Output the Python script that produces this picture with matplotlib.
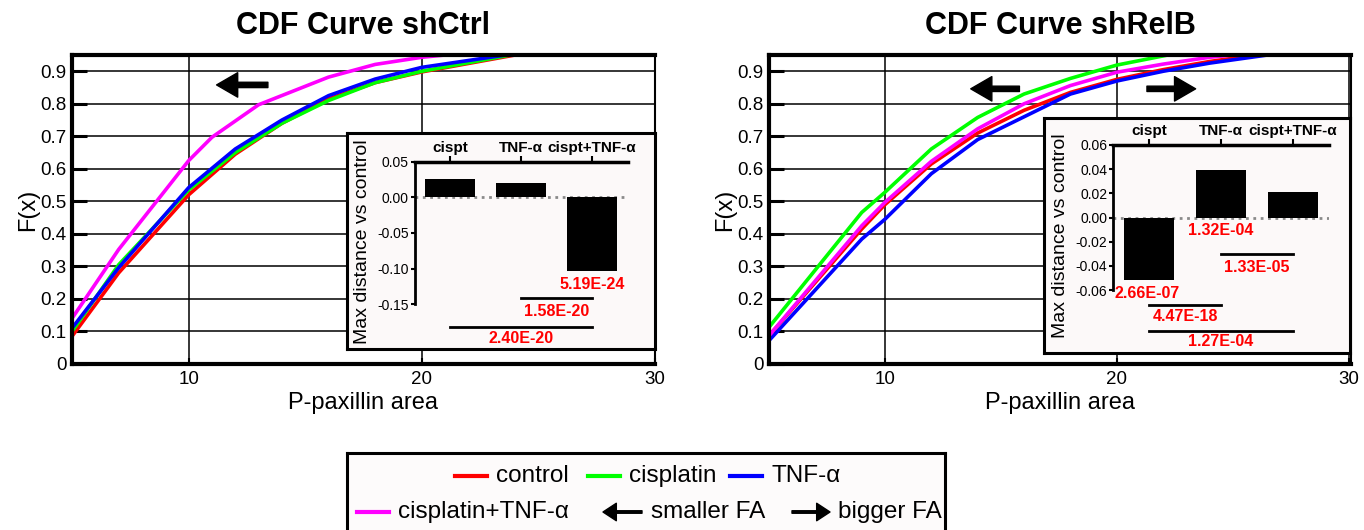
import matplotlib
matplotlib.use("Agg")
import matplotlib.pyplot as plt
import numpy as np

plt.rcParams["font.family"] = ["Liberation Sans", "DejaVu Sans"]
plt.rcParams["axes.unicode_minus"] = False

SERIES = ["control", "cisplatin", "TNF-α", "cisplatin+TNF-α"]
COLORS = ["#ff0000", "#00ff00", "#0000ff", "#ff00ff"]

# shCtrl CDF curves (P-paxillin area, F(x))
shctrl_control_x = [5, 5, 7, 10, 12, 14, 16, 18, 20, 24]
shctrl_control_f = [0, 0.085, 0.28, 0.52, 0.645, 0.74, 0.815, 0.865, 0.898, 0.95]
shctrl_cisplatin_x = [5, 5, 7, 10, 12, 14, 16, 18, 20, 23.8]
shctrl_cisplatin_f = [0, 0.10, 0.305, 0.535, 0.65, 0.74, 0.81, 0.865, 0.90, 0.95]
shctrl_tnf_x = [5, 5, 7, 10, 12, 14, 16, 18, 20, 23.6]
shctrl_tnf_f = [0, 0.11, 0.296, 0.542, 0.661, 0.75, 0.825, 0.876, 0.912, 0.95]
shctrl_combo_x = [5, 5, 7, 10, 11, 13, 16, 18, 20, 21]
shctrl_combo_f = [0, 0.14, 0.352, 0.625, 0.697, 0.797, 0.882, 0.921, 0.943, 0.95]

# shRelB CDF curves
shrelb_control_x = [5, 5, 9, 10, 12, 14, 16, 18, 20, 22, 24, 26]
shrelb_control_f = [0, 0.087, 0.415, 0.49, 0.615, 0.71, 0.78, 0.835, 0.875, 0.905, 0.93, 0.95]
shrelb_cisplatin_x = [5, 5, 9, 10, 12, 14, 16, 18, 20, 22.2]
shrelb_cisplatin_f = [0, 0.113, 0.466, 0.528, 0.661, 0.758, 0.83, 0.878, 0.919, 0.95]
shrelb_tnf_x = [5, 5, 9, 10, 12, 14, 16, 18, 20, 22, 24, 26.5]
shrelb_tnf_f = [0, 0.072, 0.384, 0.445, 0.585, 0.69, 0.76, 0.83, 0.87, 0.90, 0.925, 0.95]
shrelb_combo_x = [5, 5, 9, 10, 12, 14, 16, 18, 20, 22, 24, 25]
shrelb_combo_f = [0, 0.087, 0.425, 0.497, 0.623, 0.723, 0.80, 0.856, 0.897, 0.922, 0.943, 0.95]

# inset: max KS distance vs control, with p-values
inset_cats = ["cispt", "TNF-α", "cispt+TNF-α"]
shctrl_maxdist = [0.026, 0.021, -0.1035]
shrelb_maxdist = [-0.0517, 0.0393, 0.0214]
shctrl_bar_p = [(2, "5.19E-24")]
shctrl_pair_p = [(1, 2, "1.58E-20"), (0, 2, "2.40E-20")]
shrelb_bar_p = [(0, "2.66E-07"), (1, "1.32E-04")]
shrelb_pair_p = [(1, 2, "1.33E-05"), (0, 1, "4.47E-18"), (0, 2, "1.27E-04")]

W, H = 1364, 530
fig = plt.figure(figsize=(W / 100, H / 100), dpi=100)


def fr(x0, y0, x1, y1):
    # pixel box (top-left origin) -> figure fraction rect
    return [x0 / W, 1 - y1 / H, (x1 - x0) / W, (y1 - y0) / H]


def main_panel(rect, xlim, title, curves, arrows):
    ax = fig.add_axes(rect)
    for (xs, fs), c in zip(curves, COLORS):
        ax.plot(xs, fs, color=c, lw=2.6, solid_joinstyle="round")
    ax.set_xlim(*xlim)
    ax.set_ylim(0, 0.95)
    ax.set_yticks(np.arange(0, 0.95, 0.1))
    ax.set_yticklabels(["0"] + ["%.1f" % v for v in np.arange(0.1, 0.95, 0.1)])
    ax.set_xticks([10, 20, 30])
    ax.grid(True, color="black", lw=1.1)
    ax.tick_params(axis="y", direction="in", length=11, width=2.2, pad=4, labelsize=13.5)
    ax.tick_params(axis="x", direction="in", length=4, width=1.5, pad=5, labelsize=13.5)
    for s in ["top", "bottom", "left"]:
        ax.spines[s].set_linewidth(3)
    ax.spines["right"].set_linewidth(1.5)
    ax.set_xlabel("P-paxillin area", fontsize=17, labelpad=3)
    ax.set_ylabel("F(x)", fontsize=17, labelpad=1)
    ax.set_title(title, fontsize=22, fontweight="bold", pad=15)
    for head, tail, y in arrows:
        ax.annotate("", xy=(head, y), xytext=(tail, y),
                    arrowprops=dict(arrowstyle="simple,head_length=0.95,head_width=1.1,tail_width=0.24",
                                    color="black", mutation_scale=16, shrinkA=0, shrinkB=0))
    return ax


def inset(box_rect, bar_rect, vals, ylim, yticks, ylab_pos, bar_p, pair_p, pos):
    box = fig.add_axes(box_rect)
    box.set_facecolor("#fcf9f9")
    box.set_xticks([])
    box.set_yticks([])
    for s in box.spines.values():
        s.set_linewidth(2.2)
    ax = fig.add_axes(bar_rect)
    ax.patch.set_alpha(0)
    x = np.arange(len(inset_cats))
    ax.bar(x, vals, width=0.7, color="black", zorder=3)
    ax.axhline(0, color="#8a8a8a", ls=":", lw=2, zorder=2)
    ax.set_xlim(-0.5, 2.5)
    ax.set_ylim(*ylim)
    ax.set_yticks(yticks)
    ax.set_yticklabels(["%.2f" % v for v in yticks])
    ax.xaxis.tick_top()
    ax.set_xticks(x)
    ax.set_xticklabels(inset_cats, fontsize=11, fontweight="bold")
    ax.tick_params(axis="x", direction="out", length=4, width=1.5, pad=1)
    ax.tick_params(axis="y", direction="out", length=3, width=1.5, pad=1, labelsize=10)
    ax.spines["top"].set_linewidth(2.5)
    ax.spines["left"].set_linewidth(2)
    ax.spines["right"].set_visible(False)
    ax.spines["bottom"].set_visible(False)
    ax.text(ylab_pos[0], ylab_pos[1], "Max distance vs control", transform=ax.transAxes,
            rotation=90, ha="center", va="center", fontsize=14)
    red = dict(color="#ff0000", fontsize=11.5, fontweight="bold", ha="center", va="center", clip_on=False)
    for (i, lab), y in zip(bar_p, pos["bar"]):
        ax.text(i + pos.get("dx", {}).get(i, 0), y, lab, **red)
    for (i, j, lab), (yl, yt) in zip(pair_p, pos["pair"]):
        ax.plot([i, j], [yl, yl], color="black", lw=2, clip_on=False)
        ax.text((i + j) / 2, yt, lab, **red)
    return ax


main_panel(fr(72, 55, 655, 364), (5, 29.9), "CDF Curve shCtrl",
           [(shctrl_control_x, shctrl_control_f), (shctrl_cisplatin_x, shctrl_cisplatin_f),
            (shctrl_tnf_x, shctrl_tnf_f), (shctrl_combo_x, shctrl_combo_f)],
           [(11.2, 13.4, 0.858)])
main_panel(fr(769, 55, 1351, 364), (5, 30.1), "CDF Curve shRelB",
           [(shrelb_control_x, shrelb_control_f), (shrelb_cisplatin_x, shrelb_cisplatin_f),
            (shrelb_tnf_x, shrelb_tnf_f), (shrelb_combo_x, shrelb_combo_f)],
           [(13.7, 15.8, 0.846), (23.4, 21.3, 0.846)])

inset(fr(347, 133, 655, 349), fr(414.5, 162, 627.5, 304), shctrl_maxdist, (-0.15, 0.05),
      [0.05, 0.0, -0.05, -0.10, -0.15], (-0.242, 0.437), shctrl_bar_p, shctrl_pair_p,
      {"bar": [-0.123], "pair": [(-0.1415, -0.161), (-0.182, -0.198)]})
inset(fr(1044, 118, 1350, 353), fr(1113, 145, 1329, 290), shrelb_maxdist, (-0.06, 0.06),
      [0.06, 0.04, 0.02, 0.0, -0.02, -0.04, -0.06], (-0.245, 0.372), shrelb_bar_p, shrelb_pair_p,
      {"bar": [-0.0625, -0.0104], "pair": [(-0.030, -0.041), (-0.0724, -0.082), (-0.094, -0.103)],
       "dx": {0: -0.03}})

# legend box (coordinates in pixels of the box)
lg = fig.add_axes(fr(347, 453, 945, 541))
lg.set_xlim(347, 945)
lg.set_ylim(541, 453)
lg.set_facecolor("#fdfbfb")
lg.set_xticks([])
lg.set_yticks([])
for s in lg.spines.values():
    s.set_linewidth(2.2)
row1, row2 = 476, 512
handle_x = [(455, 487, row1), (588, 620, row1), (730, 762, row1), (357, 389, row2)]
for (x0, x1, y), c, lab in zip(handle_x, COLORS, SERIES):
    lg.plot([x0, x1], [y, y], color=c, lw=3)
    lg.text(x1 + 9, y, lab, fontsize=17.5, va="center", ha="left")
for head, tail, lab, tx in [(603, 642, "smaller FA", 651), (830, 792, "bigger FA", 838)]:
    lg.annotate("", xy=(head, row2), xytext=(tail, row2),
                arrowprops=dict(arrowstyle="simple,head_length=0.8,head_width=1.05,tail_width=0.15",
                                color="black", mutation_scale=12, shrinkA=0, shrinkB=0))
    lg.text(tx, row2, lab, fontsize=17.5, va="center", ha="left")

fig.savefig("out.png", dpi=100)
